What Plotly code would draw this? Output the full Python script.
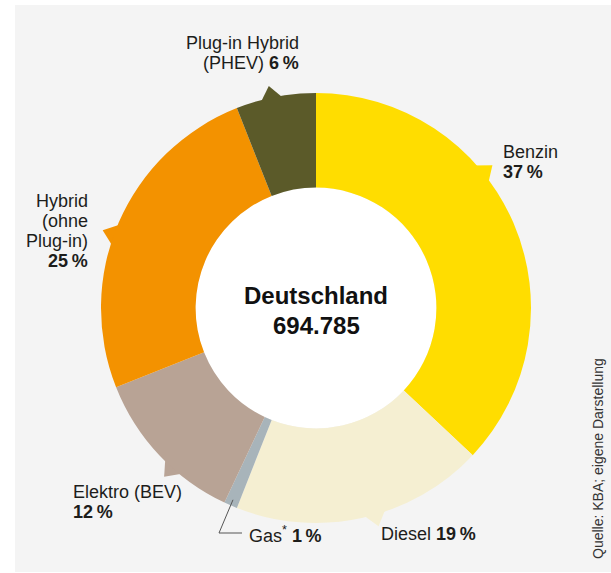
import math
import plotly.graph_objects as go

# ---- data ----
categories = ["Benzin", "Diesel", "Gas*", "Elektro (BEV)", "Hybrid (ohne Plug-in)", "Plug-in Hybrid (PHEV)"]
shares = [37, 19, 1, 12, 25, 6]
colors = ["#FFDD00", "#F5EFD2", "#A8B4BA", "#B8A395", "#F39200", "#5B5A29"]
center_title = "Deutschland"
center_value = "694.785"
source = "Quelle: KBA; eigene Darstellung"

# ---- layout helpers (pixels) ----
W, H = 611, 573
CX, CY, R = 316, 308, 215
HOLE = 0.56
TXT = "#1d1d1b"
FONT = "Arial"


def px(x):
    return x / W


def py(y):
    return 1 - y / H


def pol(angle_deg, r):
    a = math.radians(angle_deg)
    return CX + r * math.sin(a), CY - r * math.cos(a)


fig = go.Figure(go.Pie(
    labels=categories, values=shares, sort=False, direction="clockwise", rotation=0,
    hole=HOLE, marker=dict(colors=colors, line=dict(width=0)),
    textinfo="none", hoverinfo="label+percent",
    domain=dict(x=[px(CX - R), px(CX + R)], y=[py(CY + R), py(CY - R)]),
    showlegend=False,
))

shapes = []
# panel background
shapes.append(dict(type="rect", xref="paper", yref="paper", x0=px(15), x1=1, y0=py(572), y1=py(5),
                   fillcolor="#F4F4F4", line=dict(width=0), layer="below"))
# white hole
ri = R * HOLE
shapes.append(dict(type="circle", xref="paper", yref="paper", x0=px(CX - ri), x1=px(CX + ri),
                   y0=py(CY + ri), y1=py(CY - ri), fillcolor="white", line=dict(width=0), layer="below"))

# pointer spikes (angle within each slice where label pointer sits)
spike_angles = {0: 51, 1: 164, 3: 222, 4: 290, 5: 348}
for idx, ang in spike_angles.items():
    p1 = pol(ang - 3.5, R - 4)
    p2 = pol(ang + 3.5, R - 4)
    tip = pol(ang, R + 12)
    path = "M {} {} L {} {} L {} {} Z".format(px(p1[0]), py(p1[1]), px(tip[0]), py(tip[1]), px(p2[0]), py(p2[1]))
    shapes.append(dict(type="path", xref="paper", yref="paper", path=path,
                       fillcolor=colors[idx], line=dict(width=0), layer="below"))

# gas leader line
cum = sum(shares[:2]) + shares[2] / 2
gas_ang = cum / sum(shares) * 360
g0 = pol(gas_ang, R - 6)
shapes.append(dict(type="path", xref="paper", yref="paper",
                   path="M {} {} L {} {} L {} {}".format(px(g0[0]), py(g0[1]), px(219), py(533), px(242), py(533)),
                   line=dict(color="#555555", width=1)))

ann = []


def add_lines(lines, x, y0, anchor, size=18, spacing=20):
    for i, t in enumerate(lines):
        ann.append(dict(text=t, x=px(x), y=py(y0 + i * spacing), xref="paper", yref="paper",
                        xanchor=anchor, yanchor="middle", showarrow=False,
                        font=dict(family=FONT, size=size, color=TXT)))


pct = ["<b>{}\u2009%</b>".format(s) for s in shares]
add_lines(["Plug-in Hybrid", "(PHEV) " + pct[5]], 301, 43, "right")
add_lines(["Benzin", pct[0]], 501, 152, "left")
add_lines(["Hybrid", "(ohne", "Plug-in)", pct[4]], 90, 201, "right")
add_lines(["Elektro (BEV)", pct[3]], 71, 492, "left")
add_lines(["Gas<sup>*</sup> " + pct[2]], 247, 534, "left")
add_lines(["Diesel " + pct[1]], 379, 534, "left")

ann.append(dict(text="<b>" + center_title + "</b>", x=px(CX), y=py(295), xref="paper", yref="paper",
                xanchor="center", yanchor="middle", showarrow=False,
                font=dict(family=FONT, size=24, color="#111111")))
ann.append(dict(text="<b>" + center_value + "</b>", x=px(CX), y=py(325), xref="paper", yref="paper",
                xanchor="center", yanchor="middle", showarrow=False,
                font=dict(family=FONT, size=24, color="#111111")))
ann.append(dict(text=source, x=px(598), y=py(459), xref="paper", yref="paper", textangle=-90,
                xanchor="center", yanchor="middle", showarrow=False,
                font=dict(family=FONT, size=14, color="#333333")))

fig.update_layout(width=W, height=H, margin=dict(l=0, r=0, t=0, b=0),
                  paper_bgcolor="white", plot_bgcolor="white",
                  shapes=shapes, annotations=ann)

fig.write_html("out.html")
